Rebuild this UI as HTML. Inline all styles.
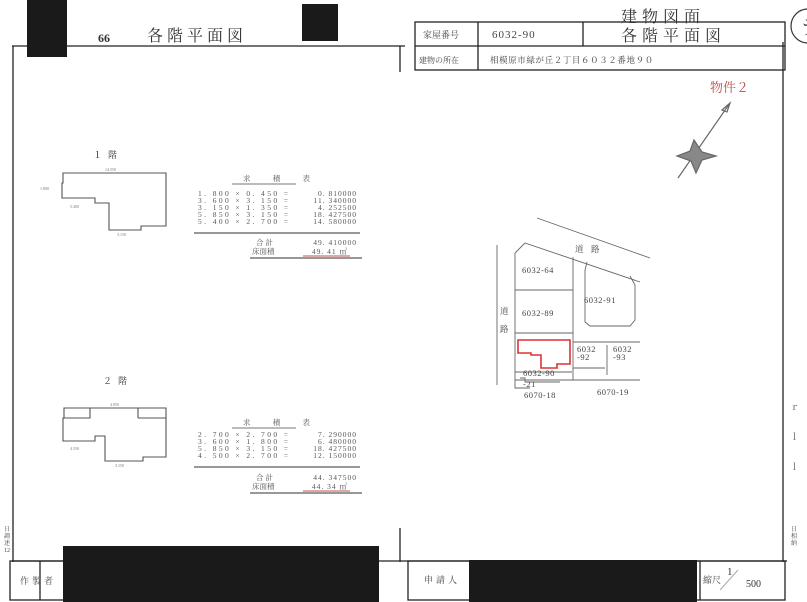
<!DOCTYPE html>
<html><head><meta charset="utf-8"><style>
html,body{margin:0;padding:0;background:#fff;}
svg{display:block;font-family:"Liberation Serif","Noto Serif CJK SC",serif;}
.t{font-size:7.5px;fill:#555;}
.s{font-size:4px;fill:#777;}
</style></head><body>
<svg width="807" height="602" viewBox="0 0 807 602" xmlns="http://www.w3.org/2000/svg">
<rect width="807" height="602" fill="#fff"/>
<g stroke="#222" fill="none" stroke-width="1.3">
<path d="M12 46 H405 M13 46 V562 M400 46 V72 M400 528 V562 M12 561 H787 M783 42 V562"/>
<rect x="415" y="22" width="370" height="48"/>
<path d="M415 46 H785 M478 22 V70 M583 22 V46"/>
<rect x="10" y="561" width="237" height="39"/>
<rect x="408" y="561" width="377" height="39"/>
<path d="M700 561 V600 M40 561 V600"/>
</g>
<circle cx="808" cy="26" r="17" fill="none" stroke="#333" stroke-width="1.2"/>
<text x="800" y="34" font-size="20" fill="#333">ラ</text>
<text x="98" y="42" font-size="12" font-weight="bold" fill="#333">66</text>
<text x="147" y="41" font-size="16" fill="#333" letter-spacing="4">各階平面図</text>
<text x="423" y="38" font-size="9" fill="#444">家屋番号</text>
<text x="492" y="38" font-size="11" fill="#444" letter-spacing="1">6032-90</text>
<text x="621" y="22" font-size="16" fill="#333" letter-spacing="5">建物図面</text>
<text x="621" y="41" font-size="16" fill="#333" letter-spacing="5">各階平面図</text>
<text x="419" y="63" font-size="8" fill="#444">建物の所在</text>
<text x="490" y="63" font-size="8.5" fill="#444" letter-spacing="0.6">相模原市緑が丘２丁目６０３２番地９０</text>
<text x="710" y="92" font-size="13" fill="#c0504d">物件２</text>
<g stroke="#666" stroke-width="1.2" fill="#777">
<line x1="678" y1="178" x2="730" y2="103"/>
<path d="M694 140 L702 152 L716 156 L702 160 L696 173 L691 161 L677 156 L690 151 Z" fill="#888"/>
<path d="M722 110 l8 -7 l-3 9 z" fill="none"/>
</g>
<text x="93" y="158" font-size="9" fill="#333" letter-spacing="6">１階</text>
<g stroke="#555" fill="none" stroke-width="1.1">
<path d="M63 173 H166 V226 H141 V230 H109 V203 H95 V198 H62 V183 H63 Z"/>
</g>
<text class="s" x="105" y="171">14.550</text><text class="s" x="70" y="208">5.400</text><text class="s" x="117" y="236">3.150</text><text class="s" x="40" y="190">1.800</text>
<g class="t">
<text x="243" y="181" textLength="67" lengthAdjust="spacing">求積表</text>
<g text-anchor="start">
<text x="198" y="196" textLength="90" lengthAdjust="spacing">1. 800 × 0. 450 =</text>
<text x="198" y="203" textLength="90" lengthAdjust="spacing">3. 600 × 3. 150 =</text>
<text x="198" y="210" textLength="90" lengthAdjust="spacing">3. 150 × 1. 350 =</text>
<text x="198" y="217" textLength="90" lengthAdjust="spacing">5. 850 × 3. 150 =</text>
<text x="198" y="224" textLength="90" lengthAdjust="spacing">5. 400 × 2. 700 =</text>
</g>
<g text-anchor="end">
<text x="357" y="196" letter-spacing="1">0. 810000</text>
<text x="357" y="203" letter-spacing="1">11. 340000</text>
<text x="357" y="210" letter-spacing="1">4. 252500</text>
<text x="357" y="217" letter-spacing="1">18. 427500</text>
<text x="357" y="224" letter-spacing="1">14. 580000</text>
<text x="357" y="245" letter-spacing="1">49. 410000</text>
<text x="348" y="254" letter-spacing="1">49. 41 ㎡</text>
</g>
<text x="256" y="245">合 計</text>
<text x="252" y="254">床面積</text>
</g>
<g stroke="#777" stroke-width="1"><line x1="232" y1="184" x2="296" y2="184"/><line x1="194" y1="233" x2="360" y2="233" stroke-width="1.5"/><line x1="250" y1="258" x2="362" y2="258" stroke-width="1.5"/></g>
<line x1="303" y1="256" x2="350" y2="256" stroke="#c0504d" stroke-width="1"/>
<text x="103" y="384" font-size="9" fill="#333" letter-spacing="6">２階</text>
<g stroke="#555" fill="none" stroke-width="1.1">
<path d="M64 408 H166 V457 H143 V461 H105 V436 H95 V441 H63 V418 H64 Z"/>
<path d="M64 418 H90 V408 M138 418 H166 M138 408 V418"/>
</g>
<text class="s" x="110" y="406">4.850</text><text class="s" x="70" y="450">4.550</text><text class="s" x="115" y="467">3.150</text>
<g class="t">
<text x="243" y="425" textLength="67" lengthAdjust="spacing">求積表</text>
<text x="198" y="437" textLength="90" lengthAdjust="spacing">2. 700 × 2. 700 =</text>
<text x="198" y="444" textLength="90" lengthAdjust="spacing">3. 600 × 1. 800 =</text>
<text x="198" y="451" textLength="90" lengthAdjust="spacing">5. 850 × 3. 150 =</text>
<text x="198" y="458" textLength="90" lengthAdjust="spacing">4. 500 × 2. 700 =</text>
<g text-anchor="end">
<text x="357" y="437" letter-spacing="1">7. 290000</text>
<text x="357" y="444" letter-spacing="1">6. 480000</text>
<text x="357" y="451" letter-spacing="1">18. 427500</text>
<text x="357" y="458" letter-spacing="1">12. 150000</text>
<text x="357" y="480" letter-spacing="1">44. 347500</text>
<text x="348" y="489" letter-spacing="1">44. 34 ㎡</text>
</g>
<text x="256" y="480">合 計</text>
<text x="252" y="489">床面積</text>
</g>
<g stroke="#777" stroke-width="1"><line x1="232" y1="428" x2="296" y2="428"/><line x1="194" y1="467" x2="360" y2="467" stroke-width="1.5"/><line x1="250" y1="493" x2="362" y2="493" stroke-width="1.5"/></g>
<line x1="303" y1="491" x2="350" y2="491" stroke="#c0504d" stroke-width="1"/>
<g stroke="#666" fill="none" stroke-width="0.9">
<path d="M537 218 L650 258"/>
<path d="M515 253 L525 243 L640 282"/>
<path d="M497 245 V385"/>
<path d="M515 253 V380 M515 290 H573 M515 333 H573 M573 257 V380 M515 380 H640"/>
<path d="M587 262 L585 270 V322 L590 326 H630 L635 320 V285 L630 276"/>
<path d="M573 342 H640 M607 345 V375 M515 372 H572 M573 368 H605"/>
<path d="M520 378 H525 V382 H560 M515 380 V388 H530"/>
</g>
<path d="M518 340 H570 V364 H557 V368 H541 V355 H531 V353 H518 Z" fill="none" stroke="#d33" stroke-width="1.6"/>
<g font-size="8.5" fill="#444" letter-spacing="0.5">
<text x="575" y="252">道</text><text x="591" y="252">路</text>
<text x="522" y="273">6032-64</text>
<text x="584" y="303">6032-91</text>
<text x="522" y="316">6032-89</text>
<text x="500" y="314">道</text><text x="500" y="332">路</text>
<text x="577" y="352">6032</text><text x="577" y="360">-92</text>
<text x="613" y="352">6032</text><text x="613" y="360">-93</text>
<text x="523" y="376">6032-90</text>
<text x="523" y="387">-21</text>
<text x="524" y="398">6070-18</text>
<text x="597" y="395">6070-19</text>
</g>
<text x="790" y="410" font-size="9" fill="#666">ｒ</text>
<text x="790" y="440" font-size="9" fill="#666">ｌ</text>
<text x="790" y="470" font-size="9" fill="#666">ｌ</text>
<g font-size="6" fill="#444">
<text x="4" y="531">日</text><text x="4" y="538">調</text><text x="4" y="545">述</text><text x="4" y="552">12</text>
<text x="791" y="531">日</text><text x="791" y="538">相</text><text x="791" y="545">納</text>
</g>
<text x="20" y="584" font-size="9" fill="#444" letter-spacing="3">作製者</text>
<text x="424" y="583" font-size="9" fill="#444" letter-spacing="3">申請人</text>
<text x="703" y="583" font-size="9" fill="#444">縮尺</text>
<line x1="720" y1="590" x2="738" y2="570" stroke="#aaa"/>
<text x="727" y="575" font-size="11" fill="#333">1</text>
<text x="746" y="587" font-size="10" fill="#333">500</text>
<g fill="#1a1a1a">
<rect x="27" y="0" width="40" height="57"/>
<rect x="302" y="4" width="36" height="37"/>
<rect x="63" y="546" width="316" height="56"/>
<rect x="469" y="560" width="228" height="42"/>
</g>
</svg>
</body></html>
